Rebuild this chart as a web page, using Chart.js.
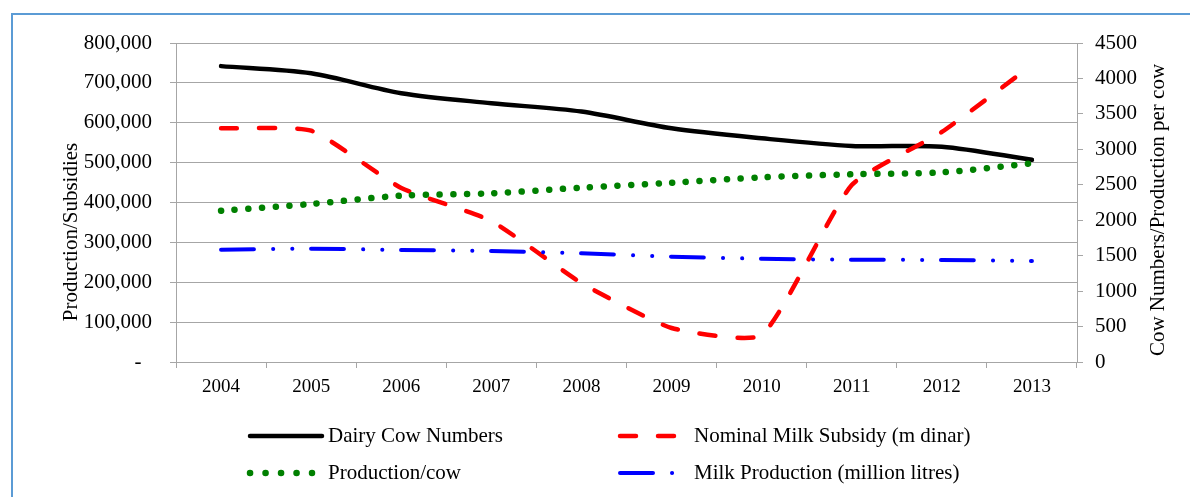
<!DOCTYPE html>
<html>
<head>
<meta charset="utf-8">
<script src="https://cdn.jsdelivr.net/npm/chart.js@4.4.0/dist/chart.umd.min.js"></script>
<style>
html, body { margin: 0; padding: 0; background: #fff; overflow: hidden; }
#frame { position: absolute; left: 11px; top: 13px; width: 1300px; height: 600px;
         border-left: 2px solid #5b9bd5; border-top: 2px solid #5b9bd5; }
#wrap { position: absolute; left: 0; top: 0; width: 1190px; height: 497px; }
</style>
</head>
<body>
<div id="frame"></div>
<div id="wrap"><canvas id="myChart" width="1190" height="497"></canvas></div>
<script>
let years = ['2004', '2005', '2006', '2007', '2008', '2009', '2010', '2011', '2012', '2013'];
let cowNumbers = [742000, 724000, 674000, 649000, 628000, 586000, 561000, 542000, 540000, 507000];
let milkSubsidy = [3297, 3263, 2455, 1989, 1114, 480, 381, 2497, 3245, 4190];
let prodPerCow = [2134, 2229, 2346, 2380, 2459, 2529, 2605, 2648, 2676, 2803];
let milkProduction = [1584, 1598, 1580, 1566, 1533, 1486, 1457, 1443, 1439, 1425];

let seriesNames = ['Dairy Cow Numbers', 'Nominal Milk Subsidy (m dinar)', 'Production/cow', 'Milk Production (million litres)'];
let leftTitle = 'Production/Subsidies';
let rightTitle = 'Cow Numbers/Production per cow';

const serif = '"Liberation Serif", "Times New Roman", serif';
const gridGrey = '#a6a6a6';

// legend + rotated axis titles, drawn after the chart
const extras = {
  id: 'extras',
  afterDraw(chart) {
    const ctx = chart.ctx;
    ctx.save();
    ctx.fillStyle = '#000';
    ctx.font = '21px ' + serif;
    ctx.textAlign = 'center';
    ctx.textBaseline = 'middle';
    [[leftTitle, 71, 232], [rightTitle, 1158, 210]].forEach(t => {
      ctx.save();
      ctx.translate(t[1], t[2]);
      ctx.rotate(-Math.PI / 2);
      ctx.fillText(t[0], 0, 0);
      ctx.restore();
    });

    const spots = [
      {x: 250, y: 436, w: 72, tx: 328},
      {x: 620, y: 436, w: 56, tx: 694},
      {x: 250, y: 473, w: 62, tx: 328},
      {x: 620, y: 473, w: 56, tx: 694}
    ];
    ctx.textAlign = 'left';
    chart.data.datasets.forEach((ds, i) => {
      const s = spots[i];
      ctx.beginPath();
      ctx.strokeStyle = ds.borderColor;
      ctx.lineWidth = ds.borderWidth;
      ctx.lineCap = ds.borderCapStyle || 'butt';
      ctx.setLineDash(i === 2 ? [0.1, 15.4] : (ds.borderDash || []));
      ctx.moveTo(s.x, s.y);
      ctx.lineTo(s.x + s.w, s.y);
      ctx.stroke();
      ctx.setLineDash([]);
      ctx.fillText(ds.label, s.tx, s.y);
    });
    ctx.restore();
  }
};

let myChart = document.getElementById('myChart').getContext('2d');
let chart = new Chart(myChart, {
  type: 'line',
  data: {
    labels: years,
    datasets: [
      {
        label: seriesNames[0],
        data: cowNumbers,
        yAxisID: 'y',
        borderColor: '#000000',
        borderWidth: 4.5,
        borderCapStyle: 'round',
        order: 4
      },
      {
        label: seriesNames[1],
        data: milkSubsidy,
        yAxisID: 'y1',
        borderColor: '#ff0000',
        borderWidth: 4.5,
        borderDash: [16, 22],
        borderCapStyle: 'round',
        tension: 0.17,
        order: 3
      },
      {
        label: seriesNames[2],
        data: prodPerCow,
        yAxisID: 'y1',
        borderColor: '#008000',
        borderWidth: 6.5,
        borderDash: [0.1, 13.6],
        borderCapStyle: 'round',
        order: 2
      },
      {
        label: seriesNames[3],
        data: milkProduction,
        yAxisID: 'y1',
        borderColor: '#0000ff',
        borderWidth: 4,
        borderDash: [33, 19, 0.1, 19, 0.1, 18.8],
        borderCapStyle: 'round',
        order: 1
      }
    ]
  },
  options: {
    responsive: false,
    animation: false,
    devicePixelRatio: 1,
    layout: { padding: { top: 43, left: 0, right: 0, bottom: 95 } },
    elements: {
      point: { radius: 0, hoverRadius: 0 },
      line: { tension: 0.3, fill: false }
    },
    plugins: {
      legend: { display: false },
      tooltip: { enabled: false },
      title: { display: false }
    },
    scales: {
      x: {
        offset: true,
        afterFit: s => { s.height = 40; },
        grid: { offset: true, drawOnChartArea: false, color: gridGrey, tickLength: 6 },
        border: { color: gridGrey },
        ticks: { color: '#000', font: { family: serif, size: 19 }, padding: 8 }
      },
      y: {
        position: 'left',
        min: 0,
        max: 800000,
        afterFit: s => { s.width = 176; },
        grid: { color: gridGrey, tickLength: 6 },
        border: { color: gridGrey },
        ticks: {
          stepSize: 100000,
          color: '#000',
          font: { family: serif, size: 21 },
          padding: 18,
          callback: v => v === 0 ? '-  ' : v.toLocaleString('en-US')
        }
      },
      y1: {
        position: 'right',
        min: 0,
        max: 4500,
        afterFit: s => { s.width = 113; },
        grid: { drawOnChartArea: false, color: gridGrey, tickLength: 6 },
        border: { color: gridGrey },
        ticks: {
          stepSize: 500,
          color: '#000',
          font: { family: serif, size: 21 },
          padding: 12,
          callback: v => String(v)
        }
      }
    }
  },
  plugins: [extras]
});
</script>
</body>
</html>
